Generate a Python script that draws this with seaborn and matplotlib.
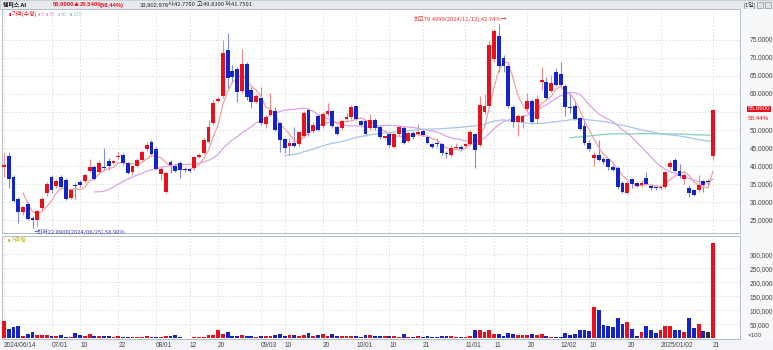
import numpy as np
import pandas as pd
import matplotlib
matplotlib.use("Agg")
import matplotlib.pyplot as plt
import matplotlib.transforms as mtransforms
from matplotlib.patches import Rectangle
import seaborn as sns

# ---------------- data ----------------
date_ticks = [0, 10, 16, 24, 32, 39, 45, 54, 59, 67, 74, 81, 88, 97, 103, 110, 117, 123, 131, 138, 149]
date_labels = ["2024/06/14", "07/01", "10", "22", "08/01", "12", "20", "09/03", "10", "20",
               "10/01", "10", "21", "11/01", "11", "20", "12/02", "10", "20", "2025/01/02", "21"]

opens = [39.8, 42.8, 36.9, 30.9, 27.1, 29.4, 25.5, 25.0, 28.2, 32.6,
         37.0, 34.4, 37.0, 36.1, 31.0, 34.7, 35.5, 35.7, 38.7, 39.6,
         38.4, 39.8, 41.5, 40.9, 42.4, 43.0, 40.8, 38.3, 40.0, 41.7,
         44.7, 46.6, 44.8, 37.9, 32.9, 41.2, 40.0, 40.8, 39.1, 39.1,
         39.5, 42.5, 43.6, 46.8, 51.9, 58.0, 59.5, 72.3, 66.5, 66.9,
         60.7, 68.4, 61.1, 57.9, 59.0, 51.7, 54.2, 55.3, 51.9, 47.4,
         45.6, 46.5, 46.0, 48.3, 55.6, 49.7, 54.0, 51.2, 54.4, 55.2,
         50.9, 50.5, 53.0, 53.5, 56.7, 52.5, 52.5, 50.5, 52.9, 50.9,
         47.9, 49.0, 45.4, 48.9, 50.6, 47.0, 49.3, 48.9, 49.7, 48.0,
         46.1, 46.5, 46.1, 43.7, 43.1, 45.1, 45.4, 45.6, 46.0, 48.8,
         45.8, 54.9, 56.7, 69.6, 76.1, 69.9, 67.9, 56.5, 52.3, 52.3,
         55.7, 58.1, 53.1, 63.4, 63.4, 60.9, 66.0, 65.6, 62.3, 56.4,
         56.8, 53.2, 51.1, 46.3, 42.1, 43.1, 41.9, 41.9, 39.8, 39.5,
         35.4, 32.4, 36.4, 35.2, 34.7, 36.8, 34.5, 34.1, 33.8, 34.3,
         39.6, 41.7, 38.7, 36.4, 33.8, 33.2, 33.3, 35.8, 35.6, 42.77]
highs = [43.7, 44.0, 37.5, 31.3, 29.0, 29.9, 26.2, 27.8, 31.5, 35.6,
         37.5, 36.3, 37.6, 36.6, 33.6, 35.2, 36.1, 37.9, 41.9, 40.3,
         41.6, 44.9, 42.1, 41.7, 43.8, 43.5, 41.2, 40.4, 42.3, 44.4,
         46.6, 47.1, 45.3, 39.6, 38.6, 41.7, 40.5, 41.3, 39.6, 39.5,
         42.9, 43.7, 47.7, 52.8, 58.3, 59.3, 75.0, 76.9, 68.1, 67.6,
         72.5, 68.8, 62.0, 59.9, 62.0, 54.2, 60.2, 56.5, 52.3, 47.7,
         47.7, 50.9, 49.8, 55.3, 56.0, 52.3, 54.4, 55.1, 57.5, 55.6,
         51.3, 52.9, 54.6, 57.0, 56.9, 52.9, 52.9, 54.4, 53.3, 51.3,
         48.7, 49.4, 49.2, 51.4, 51.0, 49.5, 49.7, 51.6, 50.2, 48.4,
         46.5, 47.7, 46.5, 44.1, 45.8, 46.3, 45.8, 46.5, 49.9, 49.2,
         59.4, 60.0, 75.0, 78.0, 79.4999, 70.8, 68.2, 56.9, 54.5, 54.5,
         60.2, 58.6, 59.7, 67.4, 64.8, 65.3, 67.3, 69.0, 62.7, 60.2,
         58.3, 53.6, 53.2, 47.2, 43.9, 47.2, 42.6, 42.3, 40.2, 39.9,
         35.8, 35.8, 36.8, 35.6, 36.1, 38.2, 34.9, 34.5, 34.7, 38.6,
         41.7, 42.1, 40.6, 37.9, 34.7, 33.6, 37.5, 36.2, 36.4, 55.83]
lows = [37.0, 34.0, 30.0, 24.1, 26.3, 25.0, 22.89, 23.2, 27.5, 31.8,
        32.5, 34.0, 33.6, 30.5, 30.7, 30.8, 34.3, 35.3, 38.2, 36.0,
        38.0, 39.0, 39.0, 40.5, 42.0, 40.2, 37.7, 37.6, 39.6, 41.3,
        44.2, 42.8, 38.8, 36.2, 32.5, 38.0, 38.2, 36.8, 38.4, 38.3,
        38.9, 42.2, 43.2, 46.4, 51.4, 57.7, 58.8, 61.6, 63.0, 57.9,
        60.2, 58.3, 56.0, 57.5, 51.4, 50.5, 53.8, 49.6, 44.0, 43.5,
        43.1, 45.2, 45.6, 47.9, 48.2, 49.1, 49.6, 50.5, 54.0, 50.5,
        48.6, 50.1, 52.3, 53.1, 52.7, 51.0, 48.2, 50.1, 50.1, 47.4,
        47.5, 45.3, 45.0, 48.5, 46.1, 46.6, 47.6, 48.2, 48.2, 46.1,
        45.0, 45.4, 43.1, 42.1, 42.6, 44.8, 44.2, 45.2, 45.6, 39.4,
        45.3, 54.4, 56.2, 69.0, 66.2, 66.2, 56.2, 50.9, 48.2, 50.5,
        55.3, 51.8, 51.9, 61.1, 58.4, 60.5, 62.1, 62.0, 54.0, 54.6,
        52.7, 49.9, 45.8, 44.3, 40.1, 41.3, 40.6, 38.9, 38.5, 33.7,
        32.4, 32.1, 33.8, 34.2, 34.2, 34.6, 33.2, 33.3, 33.2, 33.9,
        39.2, 38.3, 36.8, 34.9, 31.3, 31.6, 32.9, 32.9, 34.3, 41.75]
closes = [40.3, 36.5, 30.4, 27.1, 28.6, 25.3, 24.9, 27.5, 30.9, 35.0,
          33.3, 35.9, 34.1, 30.8, 33.2, 34.4, 34.7, 37.5, 39.6, 36.4,
          40.8, 39.5, 40.1, 41.3, 42.9, 40.7, 38.1, 40.0, 41.8, 43.9,
          45.8, 43.2, 39.2, 39.1, 38.1, 40.3, 38.7, 39.0, 38.8, 38.7,
          42.5, 43.0, 47.1, 50.8, 57.5, 58.6, 71.5, 64.5, 64.8, 60.5,
          68.4, 59.2, 57.9, 59.4, 51.9, 53.6, 55.6, 50.1, 47.2, 45.1,
          46.5, 45.6, 49.4, 54.6, 49.1, 51.4, 50.0, 54.4, 55.2, 51.1,
          49.0, 52.5, 53.7, 56.5, 53.1, 51.4, 48.8, 52.8, 50.5, 48.1,
          48.3, 45.7, 48.8, 50.7, 46.5, 49.1, 48.0, 49.5, 48.6, 46.5,
          45.4, 46.2, 43.5, 43.2, 45.1, 45.4, 44.6, 46.1, 49.5, 44.5,
          56.9, 56.8, 73.6, 77.5, 67.9, 67.9, 56.7, 52.3, 54.0, 54.0,
          58.1, 52.3, 58.5, 63.9, 58.8, 63.0, 62.5, 62.5, 56.3, 56.2,
          53.1, 50.3, 46.3, 44.7, 43.0, 41.7, 41.0, 39.8, 38.9, 34.1,
          32.9, 35.4, 34.9, 34.5, 35.2, 35.0, 33.8, 33.8, 34.3, 38.2,
          40.9, 38.7, 37.2, 37.5, 32.4, 32.0, 34.7, 34.7, 35.6, 55.69]
volumes = [62900, 34000, 39000, 45000, 8000, 15000, 21000, 13000, 13000, 11000,
           8000, 7000, 11000, 5000, 4000, 19000, 11000, 8000, 15000, 8000,
           9000, 9000, 8000, 4000, 8000, 4000, 4000, 4000, 4000, 4000,
           7000, 5000, 5000, 5000, 8000, 8000, 11000, 4000, 2000, 2000,
           5000, 5000, 5000, 11000, 13000, 31000, 15000, 21000, 8000, 8000,
           12000, 9000, 8000, 5000, 9000, 7000, 8000, 13000, 14000, 8000,
           11000, 13000, 8000, 13000, 18000, 8000, 11000, 17000, 8000, 14000,
           8000, 8000, 8000, 8000, 8000, 5000, 13000, 11000, 7000, 9000,
           7000, 7000, 8000, 5000, 14000, 5000, 5000, 8000, 4000, 9000,
           5000, 5000, 7000, 7000, 7000, 5000, 5000, 5000, 8000, 30000,
           30000, 23000, 30000, 16000, 16000, 10000, 19000, 16000, 12000, 12000,
           12000, 17000, 12000, 14000, 8000, 5000, 4000, 6000, 19000, 13000,
           16000, 29000, 29000, 27000, 113000, 102000, 47000, 45000, 41000, 71000,
           51000, 57000, 33000, 9000, 23000, 43000, 28000, 20000, 31000, 45000,
           45000, 31000, 31000, 21000, 72000, 37000, 52000, 26000, 21000, 339030]
ma_windows = [5, 20, 60, 120]

# ---------------- styling ----------------
sns.set_theme(style="white")
plt.rcParams['font.family'] = ['Noto Sans CJK KR', 'DejaVu Sans']
NUMFONT = 'Liberation Sans'
RED, BLUE, BLACK = '#e8111b', '#1424c8', '#303030'
RED_W, BLUE_W, BLACK_W = '#f08a8a', '#7f8ce6', '#808080'
MA_COLORS = {5: '#f4a0a0', 20: '#dca4e6', 60: '#a6c6ea', 120: '#84d2bc'}
GRID = dict(color='#d4d4d4', lw=0.6, ls=(0, (1.5, 2.5)))
BW = 0.8

df = pd.DataFrame({"open": opens, "high": highs, "low": lows, "close": closes, "volume": volumes})
df["idx"] = np.arange(len(df))
for n in ma_windows:
    df[f"ma{n}"] = df["close"].rolling(n).mean()
df["color"] = np.where(df.close > df.open, RED, np.where(df.close < df.open, BLUE, BLACK))
df["wcolor"] = np.where(df.close > df.open, RED_W, np.where(df.close < df.open, BLUE_W, BLACK_W))

W, H = 773, 350
fig = plt.figure(figsize=(W / 100, H / 100), dpi=100)
fig.patch.set_facecolor('white')


def fx(px):
    return px / W


def fy(py):
    return 1 - py / H


# background strips (behind the axes)
fig.patches.append(Rectangle((0, fy(9)), 1, 9 / H, transform=fig.transFigure,
                             facecolor='#e6e9ee', edgecolor='#c4cad2', lw=0.6, zorder=-5))
fig.patches.append(Rectangle((fx(740), fy(340)), fx(33), 331 / H, transform=fig.transFigure,
                             facecolor='#f7f8fa', edgecolor='none', zorder=-5))
fig.patches.append(Rectangle((0, 0), 1, 10 / H, transform=fig.transFigure,
                             facecolor='#f2f4f7', edgecolor='none', zorder=-5))

XL = (-0.42, 154.7)
ax = fig.add_axes([fx(2), fy(233), fx(738), 224 / H])
axv = fig.add_axes([fx(2), fy(339.2), fx(738), 103.2 / H])
ax.patch.set_alpha(0)
axv.patch.set_facecolor('white')

# ---------------- price panel ----------------
ax.vlines(df.idx, df.low, df.high, colors=df.wcolor, lw=0.8, zorder=2)
body_h = np.maximum((df.close - df.open).abs(), 0.15)
ax.bar(df.idx, body_h, bottom=np.minimum(df.open, df.close), width=BW,
       color=df.color, edgecolor='none', zorder=3)
for n in ma_windows:
    sns.lineplot(x=df.idx, y=df[f"ma{n}"], ax=ax, color=MA_COLORS[n], lw=0.9, zorder=2.5)

ax.set_xlim(*XL)
ax.set_ylim(21.39, 83.61)
ax.set_xticks(date_ticks)
ax.set_xticklabels([])
yt = np.arange(25, 80, 5)
ax.set_yticks(yt)
ax.yaxis.tick_right()
# the 55 label sits under the current-price marker in the reference
ax.set_yticklabels(["" if v == 55 else f"{v:.4f}" for v in yt], fontfamily=NUMFONT,
                   fontsize=4.7, color='#444')
ax.tick_params(axis='both', length=0, pad=7)
ax.grid(True, **GRID)
ax.set_xlabel('')
ax.set_ylabel('')
for s in ax.spines.values():
    s.set_color('#b4bcc6')
    s.set_linewidth(0.7)

blend = mtransforms.blended_transform_factory(ax.transAxes, ax.transData)
ax.text(1.0105, 55.9, "55.6900", transform=blend, va='center', ha='left', color='white',
        fontsize=4.5, fontfamily=NUMFONT, clip_on=False,
        bbox=dict(boxstyle='square,pad=0.1', fc=RED, ec='none'))
ax.text(1.0105, 53.2, "58.44%", transform=blend, va='center', ha='left', color=RED,
        fontsize=4.5, fontfamily=NUMFONT, clip_on=False)

# ---------------- volume panel ----------------
axv.bar(df.idx, df.volume, width=BW, color=df.color, edgecolor='none', zorder=3)
axv.set_xlim(*XL)
axv.set_ylim(-3214, 365357)
vt = np.arange(50000, 300001, 50000)
axv.set_yticks(vt)
axv.yaxis.tick_right()
axv.set_yticklabels([f"{v:,}" for v in vt], fontfamily=NUMFONT, fontsize=4.7, color='#444')
axv.set_xticks(date_ticks)
axv.set_xticklabels(date_labels, fontfamily=NUMFONT, fontsize=4.7, color='#444', ha='left')
axv.tick_params(axis='y', length=0, pad=7)
axv.tick_params(axis='x', length=0, pad=2)
axv.grid(True, **GRID)
axv.set_xlabel('')
axv.set_ylabel('')
for s in axv.spines.values():
    s.set_color('#b4bcc6')
    s.set_linewidth(0.7)
axv.text(1.0105, 11500, "×100", transform=mtransforms.blended_transform_factory(axv.transAxes, axv.transData),
         va='center', ha='left', color='#444', fontsize=4.5, fontfamily=NUMFONT, clip_on=False)

# ---------------- texts ----------------
FS = 4.2
fig.text(fx(3), fy(5), "템퍼스 AI", fontsize=FS, weight='bold', va='center', color='#111')
fig.text(fx(53), fy(5), "55.6900", fontsize=FS, va='center', color=RED, fontfamily=NUMFONT, weight='bold')
fig.text(fx(74), fy(5), "▲", fontsize=3.6, va='center', color=RED)
fig.text(fx(80), fy(5), "20.5400", fontsize=FS, va='center', color=RED, fontfamily=NUMFONT, weight='bold')
fig.text(fx(100), fy(5), "(58.44%)", fontsize=FS, va='center', color=RED, fontfamily=NUMFONT, weight='bold')
fig.text(fx(140), fy(5), "33,902,976", fontsize=FS, va='center', color='#222', fontfamily=NUMFONT)
fig.text(fx(168), fy(5), "시:42.7700", fontsize=FS, va='center', color='#222')
fig.text(fx(197), fy(5), "고:49.8300", fontsize=FS, va='center', color='#222')
fig.text(fx(225), fy(5), "저:41.7501", fontsize=FS, va='center', color='#222')
fig.text(fx(743), fy(5), "[1일]", fontsize=FS, va='center', color='#333')
fig.patches.append(Rectangle((fx(757), fy(8)), fx(6), 6 / H, transform=fig.transFigure,
                             facecolor='#dfe3e8', edgecolor='#8a94a0', lw=0.5))
fig.patches.append(Rectangle((fx(765), fy(8)), fx(6), 6 / H, transform=fig.transFigure,
                             facecolor='#dfe3e8', edgecolor='#8a94a0', lw=0.5))

fig.text(fx(9), fy(14.3), "▮", fontsize=3.2, va='center', color=RED)
fig.text(fx(12), fy(14.3), "가격(수정)", fontsize=FS, va='center', color=RED)
for xp, lab, n in [(38, "5", 5), (46, "20", 20), (58, "60", 60), (70, "120", 120)]:
    fig.text(fx(xp), fy(14.3), "▮", fontsize=3.2, va='center', color=MA_COLORS[n])
    fig.text(fx(xp + 3), fy(14.3), lab, fontsize=FS, va='center', color=MA_COLORS[n], fontfamily=NUMFONT)
fig.text(fx(8), fy(240), "▮", fontsize=3.2, va='center', color='#c8b400')
fig.text(fx(11), fy(240), "거래량", fontsize=FS, va='center', color='#c8b400')

fig.text(fx(414), fy(19), "최고79.4999(2024/11/12),42.74%→", fontsize=FS, va='center', color='#e83030')
fig.text(fx(31), fy(231.5), "└최저22.8900(2024/06/25),58.90%", fontsize=FS, va='center', color='#3a3ac8')

fig.savefig("out.png", dpi=100)
